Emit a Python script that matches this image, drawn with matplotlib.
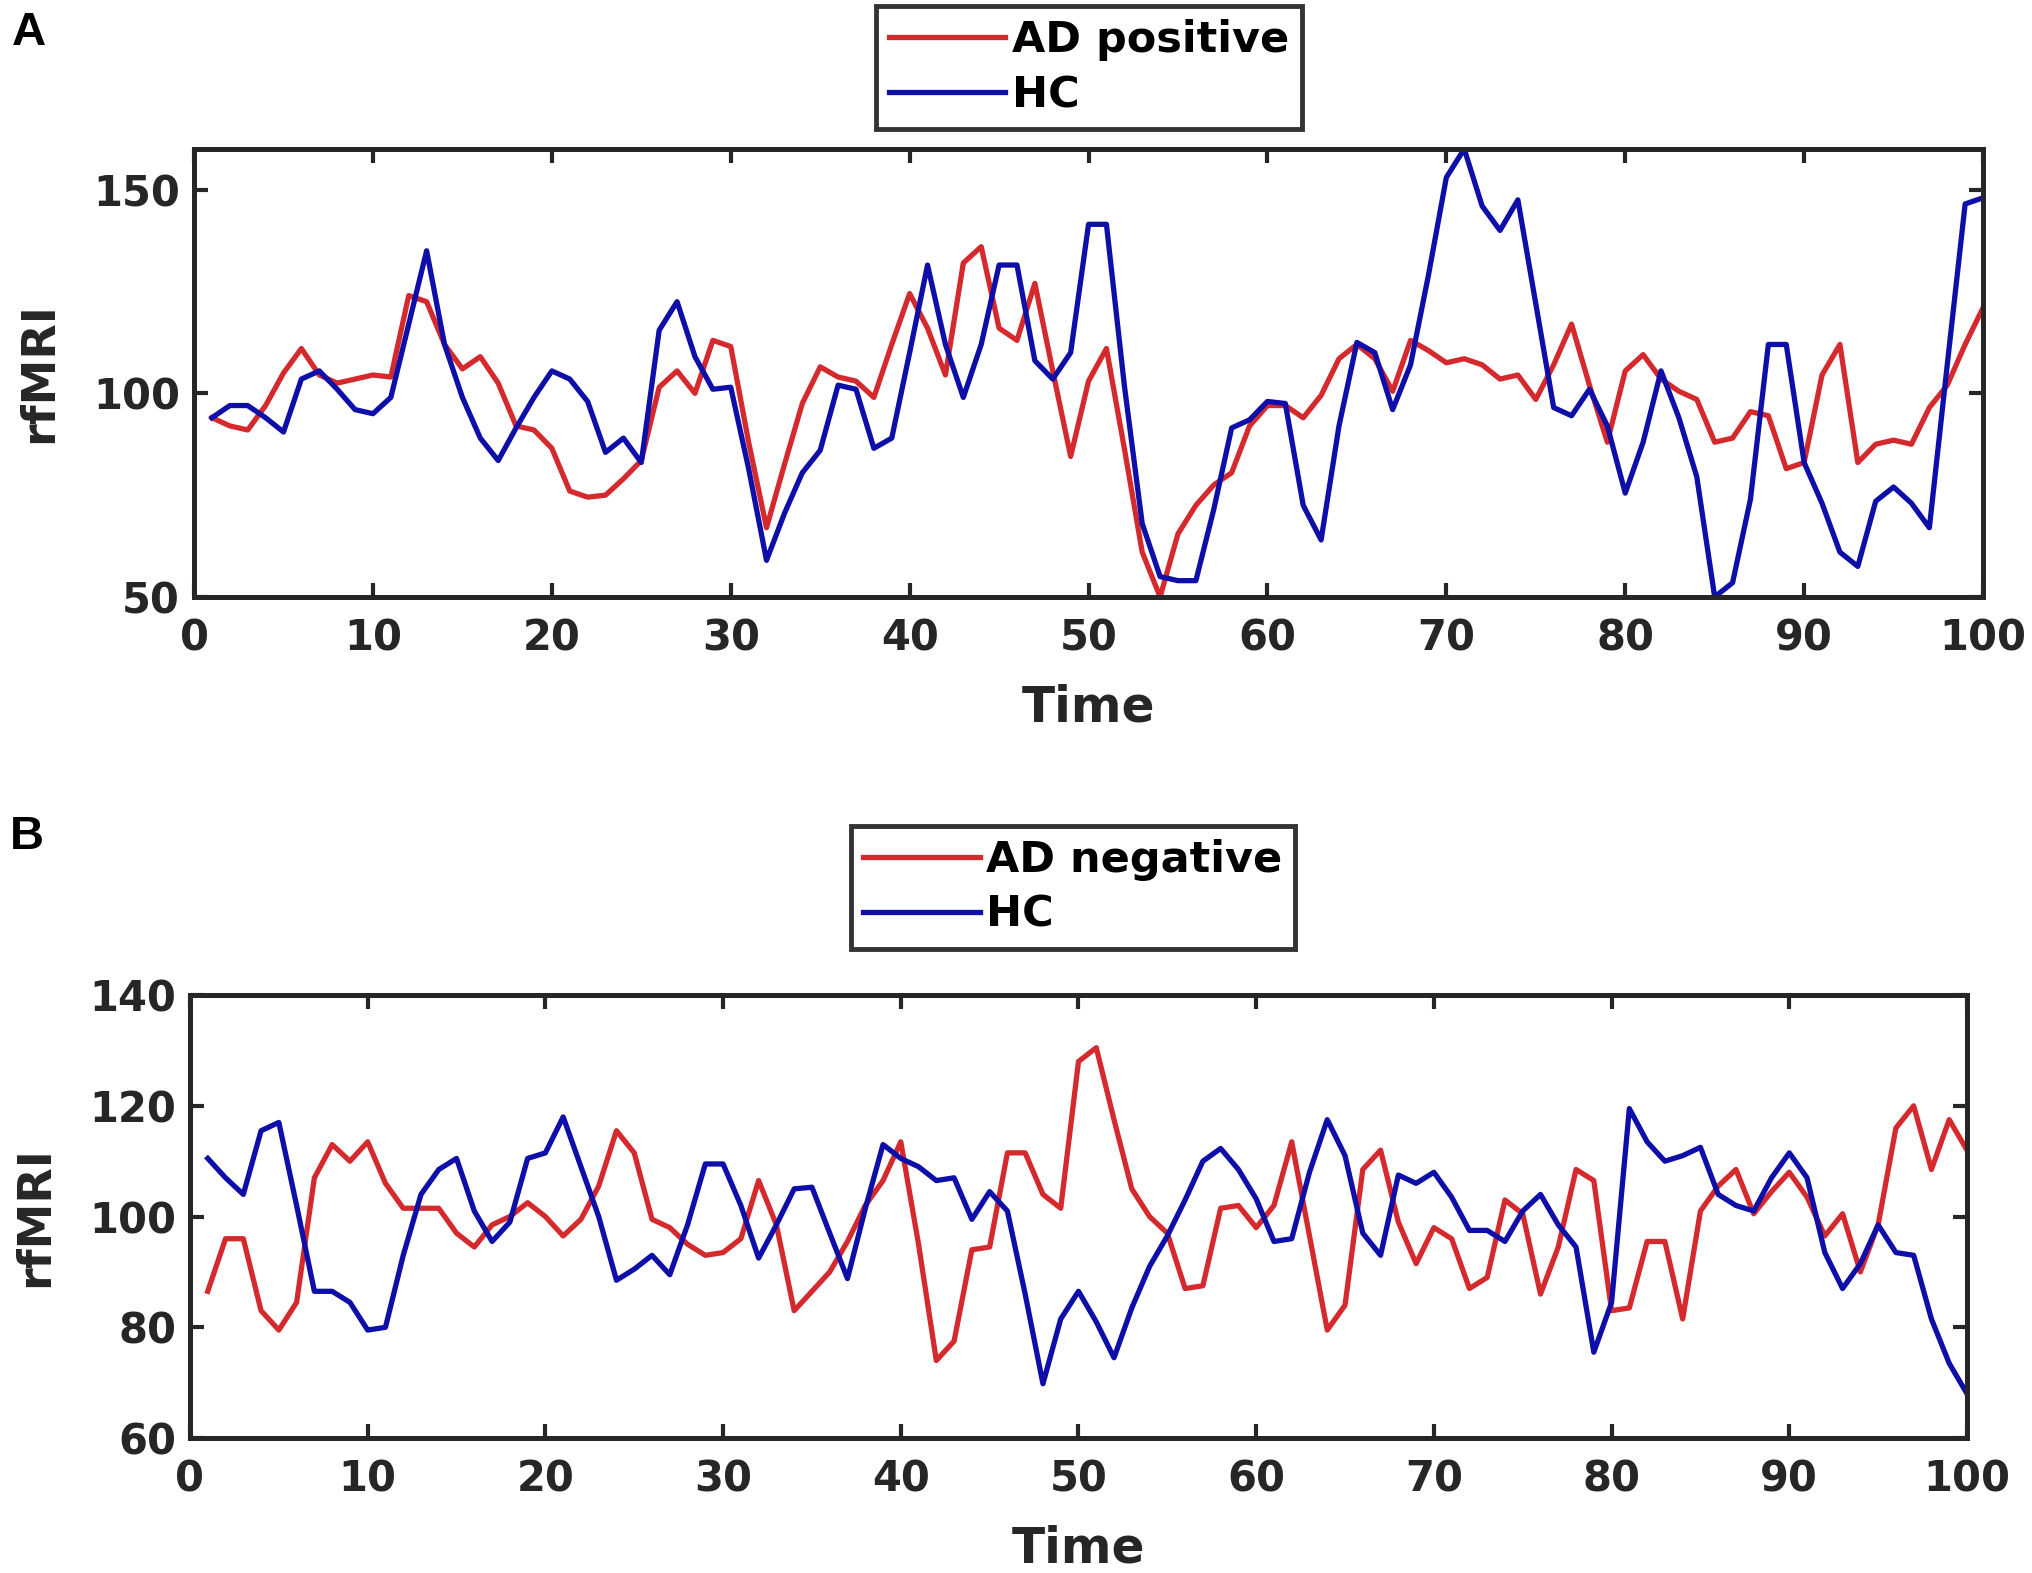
import matplotlib.pyplot as plt
import numpy as np

# time points (1..100)
time = np.arange(1, 101)

ad_positive = [94, 92, 91, 97, 105, 111, 104.5, 102.5, 103.5, 104.5,
               104, 124, 122.5, 112, 106, 109, 102.5, 92, 91, 86.5,
               76, 74.5, 75, 79, 83.5, 101.5, 105.5, 100, 113, 111.5,
               88, 67, 82.5, 97.5, 106.5, 104, 103, 99, 112, 124.5,
               116, 104.5, 132, 136, 116, 113, 127, 105.5, 84.5, 103,
               111, 86.5, 61, 50, 65.5, 72.5, 77.5, 80.5, 92, 97,
               97, 94, 99.5, 108.5, 112, 108.5, 100.5, 113, 110.5, 107.5,
               108.5, 107, 103.5, 104.5, 98.5, 107, 117, 102, 88, 105.5,
               109.5, 103.5, 100.5, 98.5, 88, 89, 95.5, 94.5, 81.5, 83,
               104.5, 112, 83, 87.5, 88.5, 87.5, 96.5, 102, 112, 121]

hc_a = [94, 97, 97, 94, 90.5, 103.5, 105.5, 101, 96, 95,
        99, 117, 135, 112, 99, 89, 83.5, 91.5, 99, 105.5,
        103.5, 98, 85.5, 89, 83, 115.5, 122.5, 109, 101, 101.5,
        81.5, 59, 70.5, 80.5, 86, 102, 101, 86.5, 89, 110,
        131.5, 112, 99, 112, 131.5, 131.5, 108, 103.5, 110, 141.5,
        141.5, 102, 68, 55, 54, 54, 71.5, 91.5, 93.5, 98,
        97.5, 72.5, 64, 92, 112.5, 110, 96, 107, 129, 153,
        160, 146, 140, 147.5, 122, 96.5, 94.5, 101, 92, 75.5,
        88, 105.5, 94, 79.5, 50, 53.5, 74, 112, 112, 83,
        73, 61, 57.5, 73.5, 77, 73, 67, 107, 146.5, 148]

ad_negative = [86.5, 96, 96, 83, 79.5, 84.5, 107, 113, 110, 113.5,
               106, 101.5, 101.5, 101.5, 97, 94.5, 98.5, 100, 102.5, 100,
               96.5, 99.5, 105.5, 115.5, 111.5, 99.5, 98, 95, 93, 93.5,
               96, 106.5, 98.5, 83, 86.5, 90, 95.5, 102, 106.5, 113.5,
               95, 74, 77.5, 94, 94.5, 111.5, 111.5, 104, 101.5, 128,
               130.5, 117.5, 105, 100, 97, 87, 87.5, 101.5, 102, 98,
               102, 113.5, 96.5, 79.5, 84, 108.5, 112, 99, 91.5, 98,
               96, 87, 89, 103, 100.5, 86, 94.5, 108.5, 106.5, 83,
               83.5, 95.5, 95.5, 81.5, 101, 105.5, 108.5, 100.5, 104.5, 108,
               103.5, 96.5, 100.5, 90, 98.5, 116, 120, 108.5, 117.5, 112]

hc_b = [110.5, 107, 104, 115.5, 117, 102, 86.5, 86.5, 84.5, 79.5,
        80, 93, 104, 108.5, 110.5, 101, 95.5, 99, 110.5, 111.5,
        118, 109, 100, 88.5, 90.5, 93, 89.5, 98.5, 109.5, 109.5,
        102, 92.5, 98.5, 105, 105.3, 97, 88.8, 101.4, 113, 110.5,
        109, 106.5, 107, 99.5, 104.5, 101, 86, 69.8, 81.5, 86.5,
        81, 74.5, 83.5, 91, 96.5, 103, 110, 112.3, 108.5, 103.2,
        95.5, 96, 108, 117.5, 111, 97, 93, 107.5, 106, 108,
        103.5, 97.5, 97.5, 95.5, 101, 104, 98.5, 94.5, 75.5, 84.5,
        119.5, 113.5, 110, 111, 112.5, 104, 102, 101, 107, 111.5,
        107, 93.5, 87, 91.5, 98.5, 93.5, 93, 81.5, 73.5, 68]

RED = '#d42a2e'
BLUE = '#0e0ea8'
EDGE = '#262626'

plt.rcParams['font.family'] = 'DejaVu Sans'
plt.rcParams['font.weight'] = 'bold'

fig = plt.figure(figsize=(20.32, 15.73), dpi=100)


def style_axes(ax, ylim, yticks):
    ax.set_xlim(0, 100)
    ax.set_ylim(*ylim)
    ax.set_xticks(np.arange(0, 101, 10))
    ax.set_yticks(yticks)
    for sp in ax.spines.values():
        sp.set_linewidth(3.6)
        sp.set_color(EDGE)
    ax.tick_params(direction='in', length=10, width=3, colors=EDGE,
                   top=True, right=True, labelsize=30, labelcolor=EDGE)
    ax.tick_params(axis='x', pad=15)
    ax.tick_params(axis='y', pad=10)
    ax.set_xlabel('Time', fontsize=35, fontweight='bold', color=EDGE, labelpad=17)
    ax.set_ylabel('rfMRI', fontsize=33, fontweight='bold', color=EDGE, labelpad=22)


def add_legend(ax, x, y):
    leg = ax.legend(loc='upper center', bbox_to_anchor=(x, y),
                    bbox_transform=fig.transFigure, fontsize=31,
                    frameon=True, fancybox=False, handlelength=2.7,
                    handletextpad=0.15, borderpad=0.3, labelspacing=0.3,
                    borderaxespad=0)
    leg.get_frame().set_edgecolor('black')
    leg.get_frame().set_linewidth(3.5)
    for txt in leg.get_texts():
        txt.set_fontweight('bold')


# panel A
ax1 = fig.add_axes([0.0955, 0.6205, 0.8804, 0.2848])
ax1.plot(time, ad_positive, color=RED, lw=3.8, label='AD positive')
ax1.plot(time, hc_a, color=BLUE, lw=3.8, label='HC')
style_axes(ax1, (50, 160), [50, 100, 150])
add_legend(ax1, 0.536, 0.996)

# panel B
ax2 = fig.add_axes([0.0935, 0.0858, 0.8745, 0.2816])
ax2.plot(time, ad_negative, color=RED, lw=3.8, label='AD negative')
ax2.plot(time, hc_b, color=BLUE, lw=3.8, label='HC')
style_axes(ax2, (60, 140), [60, 80, 100, 120, 140])
add_legend(ax2, 0.528, 0.475)

fig.text(0.006, 0.993, 'A', fontsize=34, fontweight='bold',
         family='Liberation Sans', va='top', ha='left')
fig.text(0.005, 0.482, 'B', fontsize=34, fontweight='bold',
         family='Liberation Sans', va='top', ha='left')

fig.savefig('out.png', dpi=100, facecolor='white')
